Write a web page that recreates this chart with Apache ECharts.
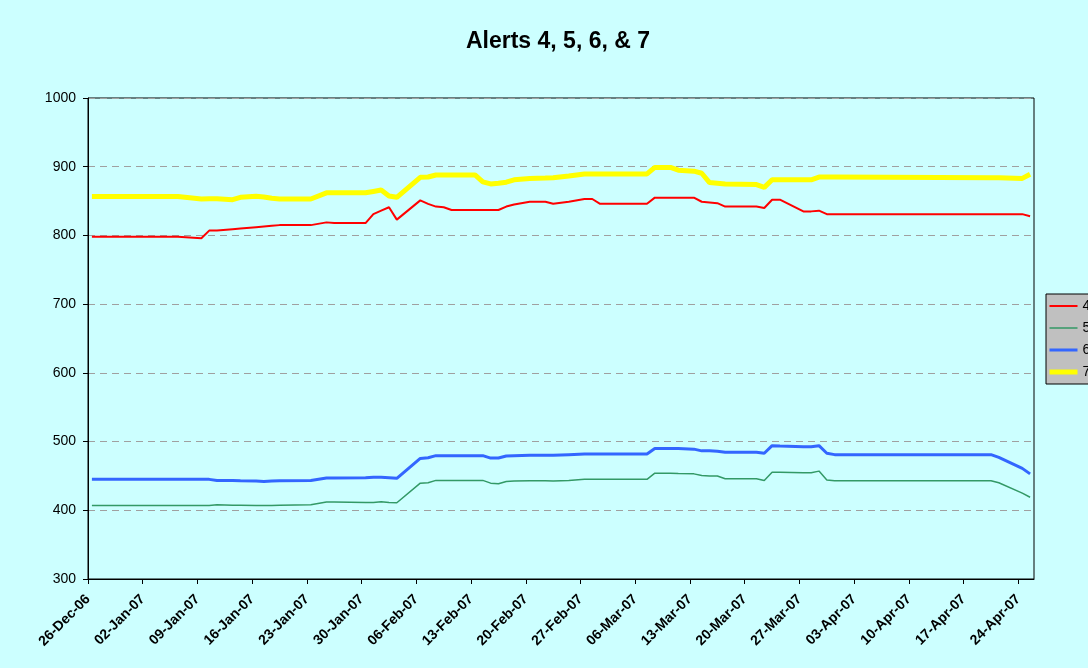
<!DOCTYPE html>
<html>
<head>
<meta charset="utf-8">
<title>Alerts 4, 5, 6, & 7</title>
<script src="https://cdn.jsdelivr.net/npm/echarts@6/dist/echarts.min.js"></script>
<style>
    html, body { margin: 0; padding: 0; background: #ccffff; }
    #chart { width: 1088px; height: 668px; }
</style>
</head>
<body>
<div id="chart"></div>
<script>
// dates where the lines change direction
const dates = [
    "2006-12-26", "2007-01-06", "2007-01-09", "2007-01-10", "2007-01-11", "2007-01-13", "2007-01-14", "2007-01-16",
    "2007-01-17", "2007-01-18", "2007-01-19", "2007-01-23", "2007-01-25", "2007-01-26", "2007-01-30", "2007-01-31",
    "2007-02-01", "2007-02-02", "2007-02-03", "2007-02-06", "2007-02-07", "2007-02-08", "2007-02-09", "2007-02-10",
    "2007-02-13", "2007-02-14", "2007-02-15", "2007-02-16", "2007-02-17", "2007-02-18", "2007-02-20", "2007-02-22",
    "2007-02-23", "2007-02-25", "2007-02-27", "2007-02-28", "2007-03-01", "2007-03-07", "2007-03-08", "2007-03-10",
    "2007-03-11", "2007-03-13", "2007-03-14", "2007-03-15", "2007-03-16", "2007-03-17", "2007-03-21", "2007-03-22",
    "2007-03-23", "2007-03-24", "2007-03-27", "2007-03-28", "2007-03-29", "2007-03-30", "2007-03-31", "2007-04-20",
    "2007-04-21", "2007-04-24", "2007-04-25"
];

const alert4 = [
    798, 798, 796, 807, 807, 809, 810, 812, 813, 814, 815, 815, 819, 818, 818, 831,
    836, 841, 823, 851, 846, 842, 841, 837, 837, 837, 837, 837, 842, 845, 849, 849,
    846, 849, 853, 853, 846, 846, 855, 855, 855, 855, 849, 848, 847, 842, 842, 840,
    852, 852, 835, 835, 836, 831, 831, 831, 831, 831, 828
];
const alert5 = [
    407, 407, 407, 407, 408, 407.5, 407.5, 407, 407, 407, 407.5, 408, 412, 412, 411.5, 411.5,
    412.5, 411.5, 411, 439.5, 440, 443.5, 443.5, 443.5, 443.5, 443.5, 439.5, 438.5, 442, 442.5, 443, 443,
    442.5, 443.5, 445, 445, 445, 445, 454, 454, 453.5, 453, 450.5, 450, 450, 446, 446, 443.5,
    455.5, 455.5, 454.5, 454.5, 457, 444, 443, 443, 440, 425, 419
];
const alert6 = [
    445, 445, 445, 445, 443.5, 443.5, 443, 442.5, 442, 442.5, 443, 443.5, 447, 447, 447.5, 448,
    448, 447.5, 446.5, 475.5, 476.5, 479.5, 479.5, 479.5, 479.5, 479.5, 476, 476, 479, 479.5, 480, 480,
    480, 481, 482, 482, 482, 482, 490, 490, 490, 489, 486.5, 486.5, 486, 484.5, 484.5, 483,
    494, 493.5, 492.5, 492.5, 494, 483, 481, 481, 477, 461, 453
];
const alert7 = [
    856.5, 856.5, 853, 853.5, 853.5, 852, 855.5, 857, 856, 854, 853, 853, 862, 862, 862, 864,
    866, 857.5, 855.5, 884.5, 885, 888, 888, 888, 888, 878, 875, 876, 877.5, 881, 883, 883.5,
    884, 886.5, 889.5, 889.5, 889.5, 889.5, 899, 899, 895, 893.5, 890.5, 877, 876, 875, 874, 870,
    881, 881, 881, 881, 885, 885, 885, 884, 884, 883, 889
];

// one label per week, starting 26-Dec-06
const xTickLabels = [
    "26-Dec-06", "02-Jan-07", "09-Jan-07", "16-Jan-07", "23-Jan-07", "30-Jan-07",
    "06-Feb-07", "13-Feb-07", "20-Feb-07", "27-Feb-07", "06-Mar-07", "13-Mar-07",
    "20-Mar-07", "27-Mar-07", "03-Apr-07", "10-Apr-07", "17-Apr-07", "24-Apr-07"
];

const seriesNames = ["4", "5", "6", "7"];
const seriesValues = [alert4, alert5, alert6, alert7];
const colors = ["#ff0000", "#339966", "#3366ff", "#ffff00"];
const widths = [2, 1.5, 3, 5];

// x is counted in days from 26-Dec-06, each point sits in the middle of its day
const start = Date.UTC(2006, 11, 26);
const dayIndex = dates.map((d) => {
    const p = d.split("-");
    return (Date.UTC(+p[0], +p[1] - 1, +p[2]) - start) / 86400000 + 0.5;
});

const series = seriesNames.map((name, i) => ({
    name,
    type: "line",
    symbol: "none",
    z: 2 + i,
    lineStyle: { color: colors[i], width: widths[i] },
    itemStyle: { color: colors[i] },
    data: dayIndex.map((x, j) => [x, seriesValues[i][j]])
}));

// legend entries carry the same line widths as the series
const legendData = seriesNames.map((name, i) => ({
    name,
    lineStyle: { color: colors[i], width: widths[i] }
}));

const chart = echarts.init(document.getElementById("chart"));
chart.setOption({
    animation: false,
    backgroundColor: "#ccffff",
    title: {
        text: "Alerts 4, 5, 6, & 7",
        left: 553,
        textAlign: "center",
        top: 25,
        textStyle: {
            fontFamily: "Liberation Sans, Arial",
            fontSize: 23,
            fontWeight: "bold",
            color: "#000"
        }
    },
    legend: {
        data: legendData,
        orient: "vertical",
        left: 1046,
        top: 294,
        itemWidth: 28,
        itemHeight: 14,
        itemGap: 8,
        padding: [5, 4, 5, 1],
        backgroundColor: "#c0c0c0",
        borderColor: "#000",
        borderWidth: 1,
        borderRadius: 0,
        itemStyle: { opacity: 0 },
        textStyle: {
            fontFamily: "Liberation Sans, Arial",
            fontSize: 14,
            color: "#000"
        }
    },
    grid: {
        left: 88,
        top: 98,
        right: 54,
        bottom: 89,
        show: true,
        borderColor: "#000",
        borderWidth: 1,
        backgroundColor: "transparent"
    },
    xAxis: {
        type: "value",
        min: 0,
        max: 121,
        interval: 7,
        splitLine: { show: false },
        axisLine: { show: true, lineStyle: { color: "#000", width: 1 } },
        axisTick: { show: true, length: 5, lineStyle: { color: "#000" } },
        axisLabel: {
            rotate: 45,
            margin: 18,
            showMaxLabel: false,
            fontFamily: "Liberation Sans, Arial",
            fontSize: 14,
            fontWeight: "bold",
            color: "#000",
            formatter: function (value) {
                if (value % 7 !== 0) {
                    return "";
                }
                return xTickLabels[value / 7] || "";
            }
        }
    },
    yAxis: {
        type: "value",
        min: 300,
        max: 1000,
        interval: 100,
        axisLine: { show: true, lineStyle: { color: "#000", width: 1 } },
        axisTick: { show: true, length: 5, lineStyle: { color: "#000" } },
        axisLabel: {
            margin: 12,
            fontFamily: "Liberation Sans, Arial",
            fontSize: 14,
            color: "#000",
            formatter: function (value) {
                return String(value);
            }
        },
        splitLine: {
            show: true,
            lineStyle: { type: [7, 5], color: "#a0a0a0", width: 1 }
        }
    },
    series
});
</script>
</body>
</html>
